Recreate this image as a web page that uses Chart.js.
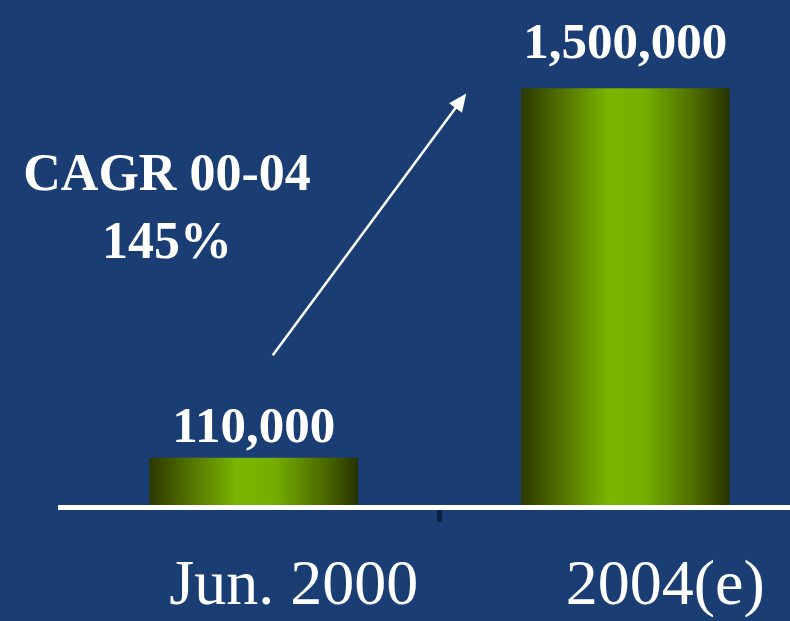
<!DOCTYPE html>
<html>
<head>
<meta charset="utf-8">
<script src="https://cdn.jsdelivr.net/npm/chart.js@4.4.1/dist/chart.umd.min.js"></script>
<style>
  html, body { margin: 0; padding: 0; background: #1a3d74; overflow: hidden; }
  #wrap { width: 790px; height: 621px; overflow: hidden; position: relative; }
</style>
</head>
<body>
<div id="wrap"><canvas id="cagrChart" width="811" height="621"></canvas></div>
<script>
// Chart data
const periods = ['Jun. 2000', '2004(e)'];
const subscribers = [110000, 1500000];
const cagrTitle = 'CAGR 00-04';
const cagrValue = '145%';

const BG = '#1a3d74';
const SERIF = '"Liberation Serif", "Times New Roman", serif';
const BAR_W = 208;
const Y_MIN = -66000;

// cylinder-like horizontal gradient for a bar
function barGradient(ctx, cx) {
    const g = ctx.createLinearGradient(cx - BAR_W / 2, 0, cx + BAR_W / 2, 0);
    g.addColorStop(0, '#2c3800');
    g.addColorStop(0.18, '#506e00');
    g.addColorStop(0.42, '#7ab600');
    g.addColorStop(0.6, '#74ae00');
    g.addColorStop(0.85, '#4a6600');
    g.addColorStop(1, '#283300');
    return g;
}

const decorPlugin = {
    id: 'decor',
    beforeDraw(chart) {
        const ctx = chart.ctx;
        ctx.save();
        ctx.fillStyle = BG;
        ctx.fillRect(0, 0, chart.width, chart.height);
        ctx.restore();
    },
    beforeDatasetsDraw(chart) {
        chart.getDatasetMeta(0).data.forEach(bar => {
            bar.options = Object.assign({}, bar.options, { backgroundColor: barGradient(chart.ctx, bar.x) });
        });
    },
    afterDatasetsDraw(chart) {
        const ctx = chart.ctx;
        const area = chart.chartArea;
        const meta = chart.getDatasetMeta(0);
        ctx.save();

        // baseline
        ctx.fillStyle = '#ffffff';
        ctx.fillRect(58, area.bottom, chart.width, 5);

        // value labels above bars
        ctx.font = 'bold 51px ' + SERIF;
        ctx.textAlign = 'center';
        ctx.textBaseline = 'alphabetic';
        const lift = [16, 31];
        meta.data.forEach((bar, i) => {
            ctx.fillText(subscribers[i].toLocaleString('en-US'), bar.x, bar.y - lift[i]);
        });

        // CAGR note
        ctx.font = 'bold 52px ' + SERIF;
        ctx.fillText(cagrTitle, 167, 190);
        ctx.fillText(cagrValue, 167, 258);

        // growth arrow from first bar towards second
        const b0 = meta.data[0], b1 = meta.data[1];
        const x1 = b0.x + 19, y1 = b0.y - 103;
        const x2 = b1.x - BAR_W / 2 - 55, y2 = b1.y + 5;
        const ang = Math.atan2(y2 - y1, x2 - x1);
        ctx.strokeStyle = '#ffffff';
        ctx.lineWidth = 2.5;
        ctx.beginPath();
        ctx.moveTo(x1, y1);
        ctx.lineTo(x2 - 10 * Math.cos(ang), y2 - 10 * Math.sin(ang));
        ctx.stroke();
        ctx.beginPath();
        ctx.moveTo(x2, y2);
        ctx.lineTo(x2 - 18 * Math.cos(ang) + 8 * Math.sin(ang), y2 - 18 * Math.sin(ang) - 8 * Math.cos(ang));
        ctx.lineTo(x2 - 18 * Math.cos(ang) - 8 * Math.sin(ang), y2 - 18 * Math.sin(ang) + 8 * Math.cos(ang));
        ctx.closePath();
        ctx.fill();

        ctx.restore();
    }
};

const ctx = document.getElementById('cagrChart').getContext('2d');
new Chart(ctx, {
    type: 'bar',
    data: {
        labels: periods,
        datasets: [{
            data: subscribers,
            backgroundColor: '#6a9a00',
            borderWidth: 0,
            barThickness: BAR_W,
            base: Y_MIN
        }]
    },
    options: {
        responsive: false,
        animation: false,
        layout: { padding: { left: 68, right: 0, top: 30, bottom: 4 } },
        plugins: {
            legend: { display: false },
            tooltip: { enabled: false }
        },
        scales: {
            x: {
                border: { display: false },
                grid: {
                    drawOnChartArea: false,
                    tickLength: 17,
                    lineWidth: 5,
                    color: (c) => c.index === 1 ? '#0b1f42' : 'rgba(0,0,0,0)'
                },
                ticks: {
                    color: '#ffffff',
                    padding: 33,
                    labelOffset: 40,
                    maxRotation: 0,
                    font: { family: SERIF, size: 64, lineHeight: 1 }
                },
                afterFit: (scale) => { scale.height = 112; }
            },
            y: {
                display: false,
                min: Y_MIN,
                max: 1720000
            }
        }
    },
    plugins: [decorPlugin]
});
</script>
</body>
</html>
